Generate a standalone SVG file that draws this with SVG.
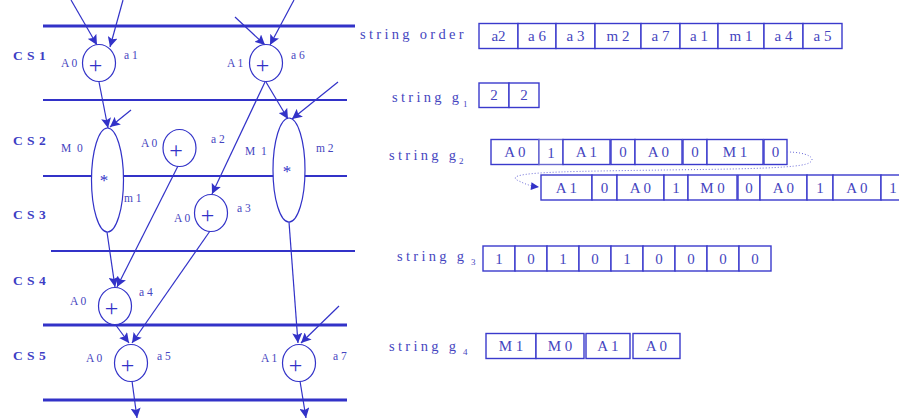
<svg xmlns="http://www.w3.org/2000/svg" width="899" height="419" viewBox="0 0 899 419">
  <defs>
    <marker id="arrow" viewBox="0 0 10 10" markerWidth="10" markerHeight="10" markerUnits="userSpaceOnUse" refX="10" refY="5" orient="auto">
      <path d="M0,0 L10,5 L0,10 L2,5 z" fill="#3232c8"/>
    </marker>
    <marker id="arrowSmall" viewBox="0 0 10 10" markerWidth="9" markerHeight="8" markerUnits="userSpaceOnUse" refX="10" refY="5" orient="auto">
      <path d="M0,0 L10,5 L0,10 z" fill="#3232c8"/>
    </marker>
  </defs>
  <style>
    .step { stroke: #3232c8; fill: none; }
    .thick { stroke-width: 3; }
    .thin { stroke-width: 2; }
    .cs { font-family: "Liberation Serif", serif; font-weight: bold; font-size: 13.5px; letter-spacing: 0.5px; fill: #3d3dc4; }
    .op { fill: #ffffff; stroke: #3232c8; stroke-width: 1.2; }
    .plus { font-family: "Liberation Serif", serif; font-size: 24px; fill: #3232c8; text-anchor: middle; }
    .star { font-family: "Liberation Serif", serif; font-size: 17px; fill: #3232c8; text-anchor: middle; }
    .lbl { font-family: "Liberation Serif", serif; font-size: 11.5px; fill: #4545c0; }
    .mlbl { letter-spacing: 1.5px; }
    .edge { stroke: #3232c8; stroke-width: 1.2; fill: none; marker-end: url(#arrow); }
    .title { font-family: "Liberation Serif", serif; font-size: 14.5px; letter-spacing: 3.3px; fill: #4545c0; }
    .sub { font-family: "Liberation Serif", serif; font-size: 9px; fill: #4545c0; }
    .cell { fill: #ffffff; stroke: #3a3acc; stroke-width: 1.4; }
    .ctext { font-family: "Liberation Serif", serif; font-size: 15px; fill: #4545c0; text-anchor: middle; }
    .wrap { stroke: #6a6ad8; stroke-width: 1; stroke-dasharray: 1 2; fill: none; marker-end: url(#arrowSmall); }
  </style>

  <!-- control step boundaries -->
  <g id="steps">
    <line class="step thick" x1="43" y1="26" x2="355" y2="26"/>
    <line class="step thin" x1="43" y1="100" x2="347" y2="100"/>
    <line class="step thin" x1="43" y1="176" x2="347" y2="176"/>
    <line class="step thin" x1="51" y1="251" x2="355" y2="251"/>
    <line class="step thick" x1="43" y1="325" x2="347" y2="325"/>
    <line class="step thick" x1="43" y1="400" x2="347" y2="400"/>
  </g>

  <g id="step-labels">
    <text class="cs" x="13" y="60">C S 1</text>
    <text class="cs" x="13" y="145">C S 2</text>
    <text class="cs" x="13" y="219">C S 3</text>
    <text class="cs" x="13" y="285">C S 4</text>
    <text class="cs" x="13" y="360">C S 5</text>
  </g>

  <!-- data-flow connectors -->
  <g id="connectors">
    <line class="edge" x1="71" y1="0" x2="97" y2="45"/>
    <line class="edge" x1="123" y1="0" x2="110" y2="47"/>
    <line class="edge" x1="235" y1="17" x2="265" y2="45"/>
    <line class="edge" x1="294" y1="0" x2="270" y2="45"/>
    <line class="edge" x1="99" y1="82" x2="108" y2="128"/>
    <line class="edge" x1="131" y1="110" x2="110" y2="127"/>
    <line class="edge" x1="266" y1="82" x2="288" y2="119"/>
    <line class="edge" x1="338" y1="82" x2="292" y2="119"/>
    <line class="edge" x1="265" y1="82" x2="212" y2="194"/>
    <line class="edge" x1="107" y1="232" x2="115" y2="287"/>
    <line class="edge" x1="178" y1="166" x2="117" y2="287"/>
    <line class="edge" x1="210" y1="231" x2="132" y2="343"/>
    <line class="edge" x1="115" y1="324" x2="129" y2="343"/>
    <line class="edge" x1="289" y1="222" x2="298" y2="343"/>
    <line class="edge" x1="339" y1="306" x2="301" y2="343"/>
    <line class="edge" x1="132" y1="381" x2="137" y2="418"/>
    <line class="edge" x1="300" y1="381" x2="306" y2="418"/>
  </g>

  <!-- operation nodes -->
  <g id="a1">
    <ellipse class="op" cx="99" cy="63" rx="16.5" ry="18.5"/>
    <text class="plus" x="95.5" y="73">+</text>
    <text class="lbl" x="61" y="67">A 0</text>
    <text class="lbl" x="124" y="59">a 1</text>
  </g>
  <g id="a6">
    <ellipse class="op" cx="266" cy="63" rx="16.5" ry="18.5"/>
    <text class="plus" x="262.5" y="73">+</text>
    <text class="lbl" x="227" y="67">A 1</text>
    <text class="lbl" x="291" y="59">a 6</text>
  </g>
  <g id="m1">
    <ellipse class="op" cx="107.5" cy="180" rx="16" ry="52"/>
    <text class="star" x="104" y="186">*</text>
    <text class="lbl mlbl" x="61" y="152">M 0</text>
    <text class="lbl" x="124" y="202">m 1</text>
  </g>
  <g id="a2">
    <ellipse class="op" cx="179.5" cy="148" rx="16.5" ry="18.5"/>
    <text class="plus" x="176" y="158">+</text>
    <text class="lbl" x="141" y="147">A 0</text>
    <text class="lbl" x="211" y="143">a 2</text>
  </g>
  <g id="m2">
    <ellipse class="op" cx="289" cy="170" rx="16" ry="52"/>
    <text class="star" x="287" y="177">*</text>
    <text class="lbl mlbl" x="245" y="155">M 1</text>
    <text class="lbl" x="316" y="152">m 2</text>
  </g>
  <g id="a3">
    <ellipse class="op" cx="211" cy="213" rx="16.5" ry="18.5"/>
    <text class="plus" x="207.5" y="223">+</text>
    <text class="lbl" x="174" y="222">A 0</text>
    <text class="lbl" x="237" y="212">a 3</text>
  </g>
  <g id="a4">
    <ellipse class="op" cx="115" cy="306" rx="16.5" ry="18.5"/>
    <text class="plus" x="111.5" y="316">+</text>
    <text class="lbl" x="70" y="305">A 0</text>
    <text class="lbl" x="139" y="296">a 4</text>
  </g>
  <g id="a5">
    <ellipse class="op" cx="131" cy="363" rx="16.5" ry="18.5"/>
    <text class="plus" x="127.5" y="373">+</text>
    <text class="lbl" x="86" y="362">A 0</text>
    <text class="lbl" x="157" y="360">a 5</text>
  </g>
  <g id="a7">
    <ellipse class="op" cx="299" cy="363" rx="16.5" ry="18.5"/>
    <text class="plus" x="295.5" y="373">+</text>
    <text class="lbl" x="261" y="362">A 1</text>
    <text class="lbl" x="333" y="360">a 7</text>
  </g>

  <!-- string order -->
  <g id="string-order">
    <text class="title" x="360" y="39">string order</text>
    <rect class="cell" x="479" y="23.5" width="39" height="25"/>
    <rect class="cell" x="518" y="23.5" width="38" height="25"/>
    <rect class="cell" x="556" y="23.5" width="39" height="25"/>
    <rect class="cell" x="595" y="23.5" width="46" height="25"/>
    <rect class="cell" x="641" y="23.5" width="39" height="25"/>
    <rect class="cell" x="680" y="23.5" width="38" height="25"/>
    <rect class="cell" x="718" y="23.5" width="46" height="25"/>
    <rect class="cell" x="764" y="23.5" width="39" height="25"/>
    <rect class="cell" x="803" y="23.5" width="39" height="25"/>
    <text class="ctext" x="498.5" y="41">a2</text>
    <text class="ctext" x="537" y="41">a 6</text>
    <text class="ctext" x="575.5" y="41">a 3</text>
    <text class="ctext" x="618" y="41">m 2</text>
    <text class="ctext" x="660.5" y="41">a 7</text>
    <text class="ctext" x="699" y="41">a 1</text>
    <text class="ctext" x="741" y="41">m 1</text>
    <text class="ctext" x="783.5" y="41">a 4</text>
    <text class="ctext" x="822.5" y="41">a 5</text>
  </g>

  <!-- string g1 -->
  <g id="string-g1">
    <text class="title" x="392" y="102">string g</text>
    <text class="sub" x="463" y="107">1</text>
    <rect class="cell" x="479" y="83" width="30" height="24.5"/>
    <rect class="cell" x="509" y="83" width="30" height="24.5"/>
    <text class="ctext" x="494" y="100">2</text>
    <text class="ctext" x="524" y="100">2</text>
  </g>

  <!-- string g2, wrapped onto two rows -->
  <g id="string-g2">
    <text class="title" x="389" y="160">string g</text>
    <text class="sub" x="459" y="164">2</text>
    <rect class="cell" x="491" y="139.5" width="48" height="25"/>
    <rect class="cell" x="539" y="139.5" width="24" height="25" style="stroke:#6a6ad0"/>
    <rect class="cell" x="563" y="139.5" width="47" height="25"/>
    <rect class="cell" x="611" y="139.5" width="24" height="25"/>
    <rect class="cell" x="635" y="139.5" width="47" height="25"/>
    <rect class="cell" x="683" y="139.5" width="24" height="25"/>
    <rect class="cell" x="707" y="139.5" width="56" height="25"/>
    <rect class="cell" x="764" y="139.5" width="23" height="25"/>
    <text class="ctext" x="515" y="157">A 0</text>
    <text class="ctext" x="551" y="158">1</text>
    <text class="ctext" x="586.5" y="157">A 1</text>
    <text class="ctext" x="623" y="157">0</text>
    <text class="ctext" x="658.5" y="157">A 0</text>
    <text class="ctext" x="695" y="157">0</text>
    <text class="ctext" x="735" y="157">M 1</text>
    <text class="ctext" x="775.5" y="157">0</text>

    <path class="wrap" d="M787,152 C806,152 818,158 809,163 C796,170 700,169 600,171 C540,172 503,174 519,181 C525,184 530,186 539,187"/>

    <rect class="cell" x="541" y="175" width="51" height="25"/>
    <rect class="cell" x="592" y="175" width="25" height="25"/>
    <rect class="cell" x="617" y="175" width="47" height="25"/>
    <rect class="cell" x="664" y="175" width="24" height="25"/>
    <rect class="cell" x="688" y="175" width="49" height="25"/>
    <rect class="cell" x="738" y="175" width="22" height="25"/>
    <rect class="cell" x="760" y="175" width="47" height="25"/>
    <rect class="cell" x="807" y="175" width="26" height="25"/>
    <rect class="cell" x="833" y="175" width="48" height="25"/>
    <rect class="cell" x="881" y="175" width="30" height="25"/>
    <text class="ctext" x="566.5" y="193">A 1</text>
    <text class="ctext" x="604.5" y="193">0</text>
    <text class="ctext" x="640.5" y="193">A 0</text>
    <text class="ctext" x="676" y="193">1</text>
    <text class="ctext" x="712.5" y="193">M 0</text>
    <text class="ctext" x="749" y="193">0</text>
    <text class="ctext" x="783.5" y="193">A 0</text>
    <text class="ctext" x="820" y="193">1</text>
    <text class="ctext" x="857" y="193">A 0</text>
    <text class="ctext" x="893" y="193">1</text>
  </g>

  <!-- string g3 -->
  <g id="string-g3">
    <text class="title" x="397" y="261">string g</text>
    <text class="sub" x="471" y="265">3</text>
    <rect class="cell" x="483" y="246" width="32" height="25"/>
    <rect class="cell" x="515" y="246" width="32" height="25"/>
    <rect class="cell" x="547" y="246" width="32" height="25"/>
    <rect class="cell" x="579" y="246" width="32" height="25"/>
    <rect class="cell" x="611" y="246" width="32" height="25"/>
    <rect class="cell" x="643" y="246" width="32" height="25"/>
    <rect class="cell" x="675" y="246" width="32" height="25"/>
    <rect class="cell" x="707" y="246" width="32" height="25"/>
    <rect class="cell" x="739" y="246" width="32" height="25"/>
    <text class="ctext" x="499" y="264">1</text>
    <text class="ctext" x="531" y="264">0</text>
    <text class="ctext" x="563" y="264">1</text>
    <text class="ctext" x="595" y="264">0</text>
    <text class="ctext" x="627" y="264">1</text>
    <text class="ctext" x="659" y="264">0</text>
    <text class="ctext" x="691" y="264">0</text>
    <text class="ctext" x="723" y="264">0</text>
    <text class="ctext" x="755" y="264">0</text>
  </g>

  <!-- string g4 -->
  <g id="string-g4">
    <text class="title" x="389" y="351">string g</text>
    <text class="sub" x="463" y="355">4</text>
    <rect class="cell" x="486" y="333.5" width="50" height="25"/>
    <rect class="cell" x="536" y="333.5" width="48" height="25"/>
    <rect class="cell" x="586" y="333.5" width="44" height="25"/>
    <rect class="cell" x="633" y="333.5" width="47" height="25"/>
    <text class="ctext" x="511" y="351">M 1</text>
    <text class="ctext" x="560" y="351">M 0</text>
    <text class="ctext" x="608" y="351">A 1</text>
    <text class="ctext" x="656.5" y="351">A 0</text>
  </g>
</svg>
